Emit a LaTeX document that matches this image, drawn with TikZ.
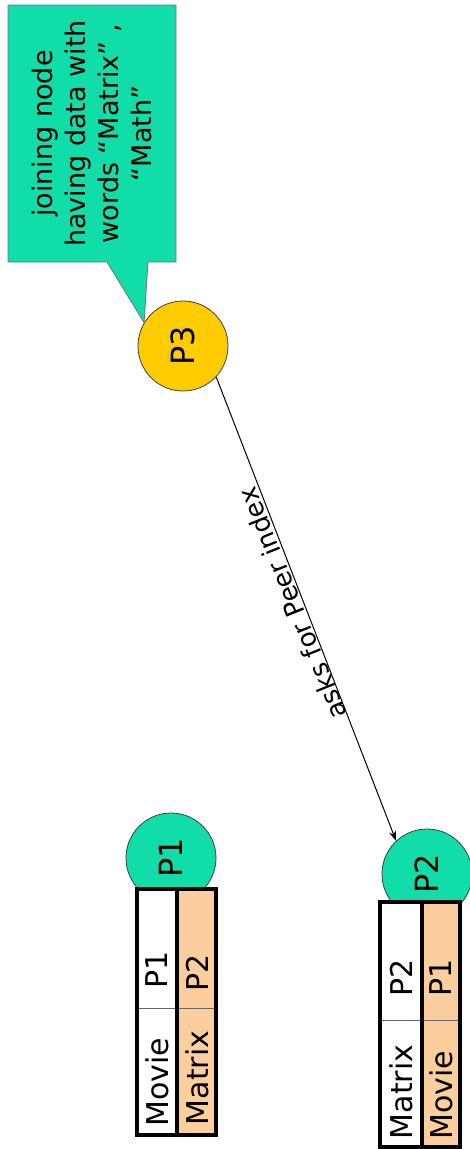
\documentclass[tikz,border=0pt]{standalone}
\usepackage{fontspec}
\setmainfont{DejaVu Sans}
\usetikzlibrary{arrows.meta}

\definecolor{peerteal}{RGB}{16,221,168}
\definecolor{peeryellow}{RGB}{255,204,0}
\definecolor{cellpeach}{RGB}{252,206,158}

\begin{document}
\begin{tikzpicture}[x=1pt, y=-1pt, >={Stealth[length=10pt, width=7pt]},
  peer/.style={circle, draw=black!75, line width=0.8pt, minimum size=90pt,
    inner sep=0pt, font=\fontsize{32}{32}\selectfont},
  cell/.style={rotate=90, inner sep=0pt, font=\fontsize{30}{30}\selectfont},
  callbox/.style={fill=peerteal, draw=black!55, line width=0.8pt},
  tableline/.style={draw=black, line width=3.6pt},
  cellline/.style={draw=black!60, line width=0.6pt}]

  \useasboundingbox (0,0) rectangle (470,1149);

  % --- Peers ---
  \node[peer, fill=peeryellow] (p3) at (183,346) {\rotatebox{90}{P3}};
  \node[peer, fill=peerteal]   (p1) at (171,858) {\rotatebox{90}{P1}};
  \node[peer, fill=peerteal]   (p2) at (427,874) {\rotatebox{90}{P2}};

  % --- Globo de texto sobre P3 ---
  \coordinate (tip) at (p3.149);
  \draw[callbox] (8,5) -- (176,5) -- (176,262) -- (148,262) -- (tip)
    -- (107,262) -- (8,262) -- cycle;
  \node[rotate=90, align=center, font=\fontsize{27}{33}\selectfont] (note)
    at (92,133.5) {joining node\\having data with\\words “Matrix” ,\\“Math”};

  % --- Consulta P3 -> P2 ---
  \draw[->, line width=1pt] (p3.-43) -- node[pos=0.48, rotate=112, anchor=south,
    inner sep=1pt, font=\fontsize{26}{26}\selectfont] (ask) {asks for Peer index}
    (p2.133);

  % --- Tabla de P1 ---
  \fill[white]     (137,889) rectangle (177,1135);
  \fill[cellpeach] (177,889) rectangle (216,1135);
  \draw[cellline]  (137,1008) -- (216,1008);
  \draw[tableline] (177,889) -- (177,1135);
  \draw[tableline] (137,889) rectangle (216,1135);
  \node[cell] (t1v) at (157,970)  {P1};
  \node[cell] (t1k) at (157,1082) {Movie};
  \node[cell] (t1w) at (197,973)  {P2};
  \node[cell] (t1m) at (197,1078) {Matrix};

  % --- Tabla de P2 ---
  \fill[white]     (380,902) rectangle (422,1147);
  \fill[cellpeach] (422,902) rectangle (460,1147);
  \draw[cellline]  (380,1020) -- (460,1020);
  \draw[tableline] (422,902) -- (422,1147);
  \draw[tableline] (380,902) rectangle (460,1147);
  \node[cell] (t2v) at (401,978)  {P2};
  \node[cell] (t2k) at (401,1092) {Matrix};
  \node[cell] (t2w) at (441,978)  {P1};
  \node[cell] (t2m) at (441,1095) {Movie};

\end{tikzpicture}
\end{document}
